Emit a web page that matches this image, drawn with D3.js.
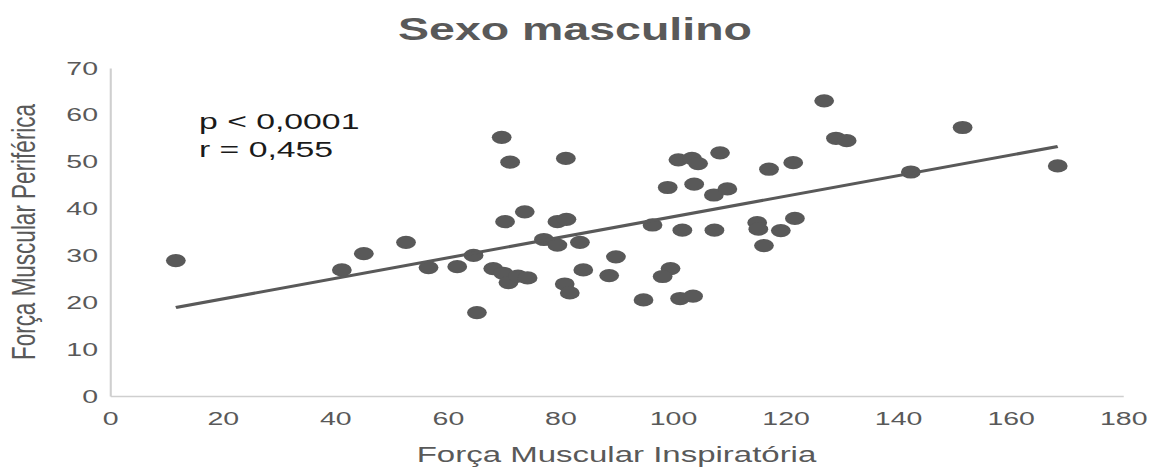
<!DOCTYPE html>
<html>
<head>
<meta charset="utf-8">
<script src="https://cdn.jsdelivr.net/npm/d3@7"></script>
<style>
  html, body { margin: 0; padding: 0; background: #fff; }
  svg { display: block; }
  text { font-family: "Liberation Sans", Arial, sans-serif; }
</style>
</head>
<body>
<div id="chart"></div>
<script>
// Inspiratory muscle strength (x) vs peripheral muscle strength (y), male group
const inspiratoria = [
  11.7, 41.2, 45.1, 52.6, 56.6, 61.7, 64.6, 65.2, 68.1, 69.9,
  70.8, 72.5, 74.2, 70.2, 73.7, 77.1, 79.5, 81.1, 79.5, 83.5,
  80.8, 81.7, 84.1, 89.9, 88.7, 94.8, 96.4, 99.1, 101.7, 99.6,
  98.2, 101.3, 103.6, 69.6, 71.1, 81.0, 101.0, 103.4, 104.5, 103.8,
  107.3, 109.7, 108.4, 117.1, 121.4, 126.9, 129.0, 130.9, 107.4, 115.0,
  115.2, 119.2, 121.7, 116.2, 151.5, 142.3, 168.4
];
const periferica = [
  28.9, 26.9, 30.4, 32.8, 27.4, 27.6, 30.0, 17.8, 27.2, 26.2,
  24.2, 25.6, 25.2, 37.2, 39.3, 33.4, 37.2, 37.7, 32.2, 32.8,
  23.9, 22.0, 26.9, 29.7, 25.7, 20.5, 36.5, 44.5, 35.4, 27.2,
  25.5, 20.8, 21.3, 55.2, 49.9, 50.7, 50.4, 50.7, 49.6, 45.2,
  42.9, 44.2, 51.9, 48.4, 49.8, 63.0, 55.0, 54.5, 35.4, 37.0,
  35.6, 35.3, 37.9, 32.1, 57.3, 47.8, 49.1
];
const xTicks = [0, 20, 40, 60, 80, 100, 120, 140, 160, 180];
const yTicks = [0, 10, 20, 30, 40, 50, 60, 70];
// Linear fit y = intercept + slope * x
const fitIntercept = 16.33;
const fitSlope = 0.2192;
const statLines = ["p < 0,0001", "r = 0,455"];

const W = 1156, H = 468;
const stretch = 1.5;            // horizontal stretch of the drawing
const VW = W / stretch;         // drawing coordinates width

const svg = d3.select("#chart").append("svg")
  .attr("width", W).attr("height", H)
  .attr("viewBox", `0 0 ${VW} ${H}`)
  .attr("preserveAspectRatio", "none");

const x = d3.scaleLinear().domain([0, 180]).range([110 / stretch, 1123 / stretch]);
const y = d3.scaleLinear().domain([0, 70]).range([396, 68]);

const grey = "#595959";
const axisGrey = "#cfcfcf";

// Title, centred on the whole figure
svg.append("text")
  .attr("x", VW / 2 - 2).attr("y", 40)
  .attr("text-anchor", "middle")
  .attr("font-size", 31).attr("font-weight", "bold")
  .attr("fill", grey)
  .text("Sexo masculino");

// Axes
const xAxis = svg.append("g").attr("transform", `translate(0,${y(0)})`)
  .call(d3.axisBottom(x).tickValues(xTicks).tickSize(0).tickPadding(12).tickFormat(d3.format("d")));
const yAxis = svg.append("g").attr("transform", `translate(${x(0)},0)`)
  .call(d3.axisLeft(y).tickValues(yTicks).tickSize(0).tickPadding(8).tickFormat(d3.format("d")));

[xAxis, yAxis].forEach(g => {
  g.select(".domain").attr("stroke", axisGrey).attr("stroke-width", 1.4);
  g.selectAll("text").attr("fill", grey).attr("font-size", 19)
    .attr("font-family", "'Liberation Sans', Arial, sans-serif");
});
xAxis.selectAll("text").attr("dy", "0.9em");

// Axis titles
svg.append("text")
  .attr("x", (x(0) + x(180)) / 2).attr("y", 462)
  .attr("text-anchor", "middle")
  .attr("font-size", 22).attr("fill", grey)
  .text("Força Muscular Inspiratória");

svg.append("text")
  .attr("transform", `translate(23,${(y(0) + y(70)) / 2}) rotate(-90)`)
  .attr("text-anchor", "middle")
  .attr("font-size", 22.5).attr("fill", grey)
  .text("Força Muscular Periférica");

// Points
const pts = inspiratoria.map((v, i) => ({ x: v, y: periferica[i] }));
svg.append("g").selectAll("circle").data(pts).join("circle")
  .attr("cx", d => x(d.x))
  .attr("cy", d => y(d.y))
  .attr("r", 6.6)
  .attr("fill", grey);

// Trend line across the observed range
const xMin = d3.min(inspiratoria), xMax = d3.max(inspiratoria);
const line = d3.line().x(d => x(d)).y(d => y(fitIntercept + fitSlope * d));
svg.append("path")
  .attr("d", line([xMin, xMax]))
  .attr("fill", "none")
  .attr("stroke", grey)
  .attr("stroke-width", 3);

// Statistics
svg.append("g").selectAll("text").data(statLines).join("text")
  .attr("x", 199 / stretch)
  .attr("y", (d, i) => 129 + i * 28)
  .attr("font-size", 22.5)
  .attr("fill", "#1a1a1a")
  .text(d => d);
</script>
</body>
</html>
